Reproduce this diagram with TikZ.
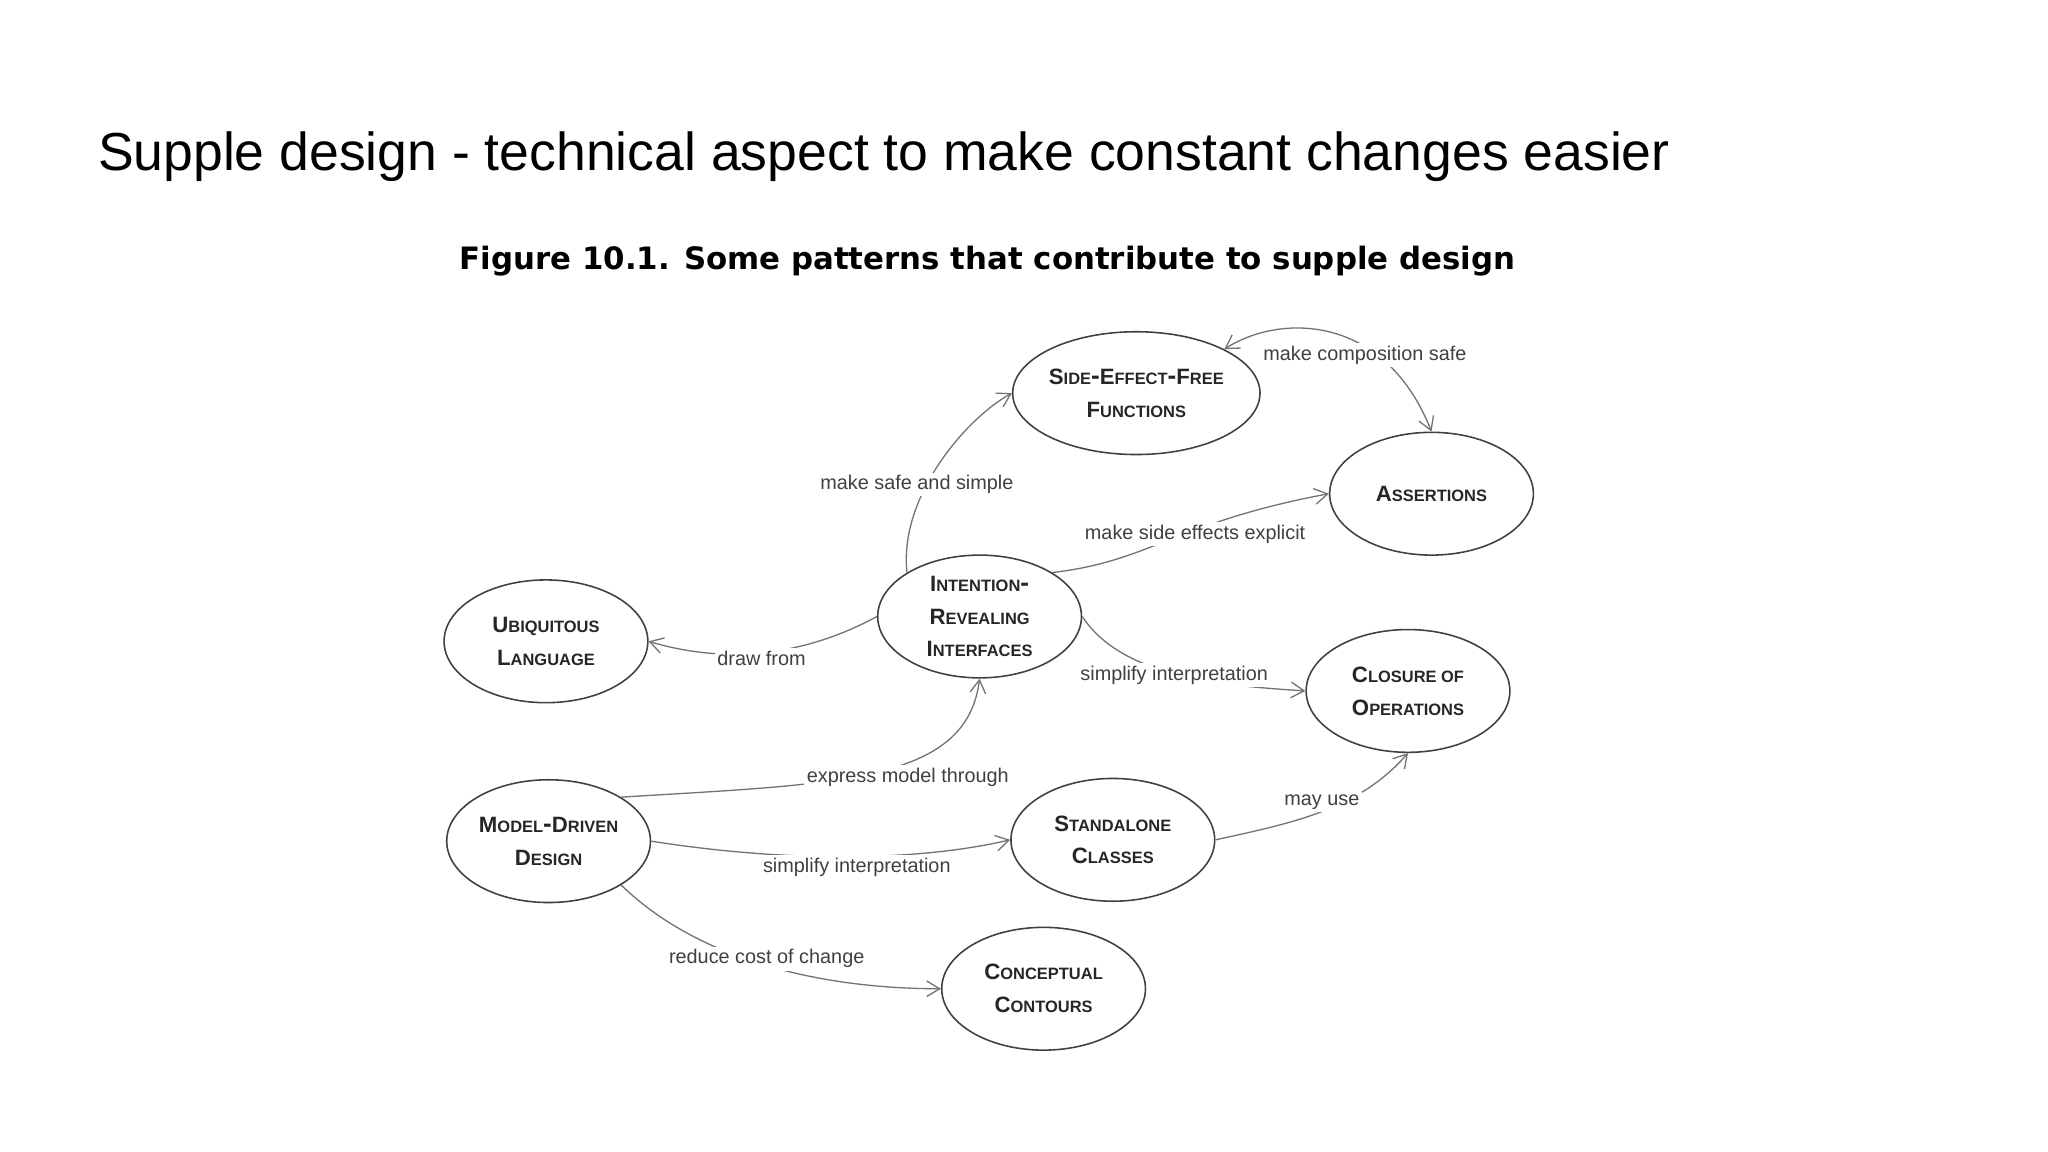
\documentclass[tikz,border=0pt]{standalone}
\usepackage{fontspec}
\setmainfont{Liberation Sans}
\newfontfamily\capfont{DejaVu Sans}
\usetikzlibrary{arrows.meta,shapes.geometric}
\newcommand\fsc[2]{{\fontsize{8.5}{9}\selectfont #1}{\fontsize{6.3}{9}\selectfont #2}}
\tikzset{
  pat/.style={ellipse, draw=black!75, line width=0.6pt, minimum width=78pt, minimum height=47pt, inner sep=0pt, align=center, font=\bfseries\linespread{1.05}\selectfont, text=black!85},
  conn/.style={draw=black!55, line width=0.5pt, -{Straight Barb[length=5pt,width=6pt]}},
  lab/.style={fill=white, inner sep=1pt, font=\fontsize{7.6}{9}\selectfont, text=black!75}
}
\begin{document}
\begin{tikzpicture}[x=0.5pt,y=-0.5pt]
\useasboundingbox[fill=white] (0,0) rectangle (1568,882);
\node[anchor=west, font=\fontsize{20.5}{24}\selectfont] (title) at (68,120) {Supple design - technical aspect to make constant changes easier};
\node[font=\capfont\bfseries\fontsize{11.8}{14}\selectfont] (cap) at (756,200) {Figure 10.1. Some patterns that contribute to supple design};

\node[pat] (sef) at (870,301) {\fsc{S}{IDE}-\fsc{E}{FFECT}-\fsc{F}{REE}\\\fsc{F}{UNCTIONS}};
\node[pat] (as) at (1096,378) {\fsc{A}{SSERTIONS}};
\node[pat] (iri) at (750,472) {\fsc{I}{NTENTION}-\\\fsc{R}{EVEALING}\\\fsc{I}{NTERFACES}};
\node[pat] (ul) at (418,491) {\fsc{U}{BIQUITOUS}\\\fsc{L}{ANGUAGE}};
\node[pat] (co) at (1078,529) {\fsc{C}{LOSURE OF}\\\fsc{O}{PERATIONS}};
\node[pat] (mdd) at (420,644) {\fsc{M}{ODEL}-\fsc{D}{RIVEN}\\\fsc{D}{ESIGN}};
\node[pat] (sc) at (852,643) {\fsc{S}{TANDALONE}\\\fsc{C}{LASSES}};
\node[pat] (cc) at (799,757) {\fsc{C}{ONCEPTUAL}\\\fsc{C}{ONTOURS}};

\draw[conn] (iri.north west) .. controls (688,380) and (740,320) .. (sef.west);
\draw[conn, {Straight Barb[length=5pt,width=6pt]}-{Straight Barb[length=5pt,width=6pt]}] (sef.north east) .. controls (980,240) and (1060,240) .. (as.north);
\draw[conn] (iri.north east) .. controls (880,430) and (900,400) .. (as.west);
\draw[conn] (iri.west) .. controls (620,500) and (560,510) .. (ul.east);
\draw[conn] (iri.east) .. controls (860,520) and (940,525) .. (co.west);
\draw[conn] (mdd.north east) .. controls (640,600) and (740,600) .. (iri.south);
\draw[conn] (mdd.east) .. controls (600,660) and (700,660) .. (sc.west);
\draw[conn] (sc.east) .. controls (990,630) and (1040,620) .. (co.south);
\draw[conn] (mdd.south east) .. controls (540,740) and (640,757) .. (cc.west);

\node[lab] (l1) at (702,371) {make safe and simple};
\node[lab] (l2) at (1045,272) {make composition safe};
\node[lab] (l3) at (915,409) {make side effects explicit};
\node[lab] (l4) at (583,504) {draw from};
\node[lab] (l5) at (899,517) {simplify interpretation};
\node[lab] (l6) at (695,595) {express model through};
\node[lab] (l7) at (656,664) {simplify interpretation};
\node[lab] (l8) at (1012,614) {may use};
\node[lab] (l9) at (587,734) {reduce cost of change};
\end{tikzpicture}
\end{document}
